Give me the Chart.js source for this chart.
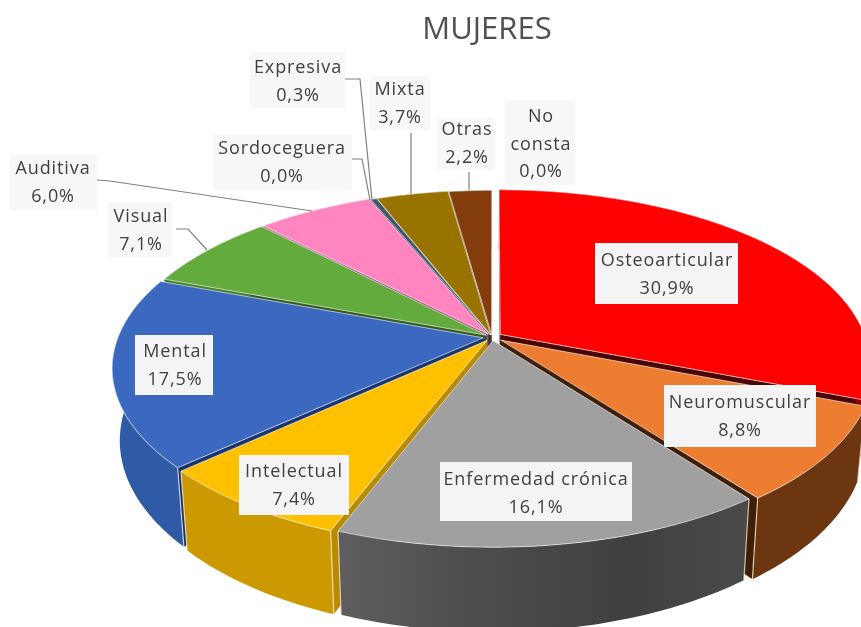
<!DOCTYPE html>
<html>
<head>
<meta charset="utf-8">
<style>html,body{margin:0;padding:0;background:#fff}canvas{display:block}</style>
<script src="https://cdn.jsdelivr.net/npm/chart.js@4/dist/chart.umd.min.js"></script>
</head>
<body>
<canvas id="c" width="861" height="627"></canvas>
<script>
const categories = ['Osteoarticular','Neuromuscular','Enfermedad crónica','Intelectual','Mental','Visual','Auditiva','Sordoceguera','Expresiva','Mixta','Otras','No consta'];
const values = [30.9,8.8,16.1,7.4,17.5,7.1,6.0,0.0,0.3,3.7,2.2,0.0];
const topColors = ['#ff0000','#ed7d31','#a0a0a0','#ffc000','#3b69bf','#62ab3c','#ff85c0','#a5a5a5','#44546a','#997300','#843c0c','#5b9bd5'];
const wallColors = ['#8f0000','#6b3610','#484848','#cc9a00','#2f5aa6','#4a7f2c','#c8609a','#707070','#2a3442','#6b5000','#5a2808','#3a6a95'];
const cutColors = ['#4a0606','#3f1f08','#484848','#b88a00','#1a3470','#33591d','#a04a7c','#707070','#2a3442','#5a4300','#4a2006','#3a6a95'];
const explode = [10,11,8,9,9,7,7,5,5,5,4,4];

const labelLines = {
 'Osteoarticular':['Osteoarticular'],'Neuromuscular':['Neuromuscular'],'Enfermedad crónica':['Enfermedad crónica'],
 'Intelectual':['Intelectual'],'Mental':['Mental'],'Visual':['Visual'],'Auditiva':['Auditiva'],
 'Sordoceguera':['Sordoceguera'],'Expresiva':['Expresiva'],'Mixta':['Mixta'],'Otras':['Otras'],'No consta':['No','consta']
};
const labelLayout = [
 [667,261,595,243,738,304],[740,403,664,385,816,447],[536,480,440,462,632,521],[294,472,239,455,349,515],
 [175,352,135,335,213,395],[141,217,108,203,172,257],[53,169,10,155,97,210],[282,149,213,135,352,190],
 [298,68,250,52,345,108],[400,90,370,76,430,130],[467,130,437,118,495,170],[541,117,505,100,575,185]
];
const leaders = [
 null,null,null,null,null,
 [[176,229],[188,229],[207,250]],
 [[97,180],[110,181],[312,211]],
 [[352,159],[362,159],[370,200]],
 [[345,79],[360,79],[372,200]],
 [[411,133],[411,194]],
 [[469,172],[469,190]],
 null
];

const CX=492, CY=337, RX=365, RY=170, PERSP=0.17, DEPTH=70;
function project(u,v,z){
  const w=1-PERSP*v;
  const s=1-0.02*z;
  return [CX+RX*u/w*s, CY+RY*v/w+z*DEPTH/w];
}
function slicePts(el,i,z){
  const off=explode[i]/RX, mid=(el.startAngle+el.endAngle)/2;
  const ox=Math.cos(mid)*off, oy=Math.sin(mid)*off;
  const pts=[];
  const n=Math.max(2,Math.ceil((el.endAngle-el.startAngle)/0.02));
  for(let k=0;k<=n;k++){
    const a=el.startAngle+(el.endAngle-el.startAngle)*k/n;
    pts.push(project(ox+Math.cos(a),oy+Math.sin(a),z));
  }
  return {pts,apex:project(ox,oy,z)};
}
function fillPath(ctx,pts,fill,stroke,lw){
  ctx.beginPath();
  pts.forEach((p,j)=> j?ctx.lineTo(p[0],p[1]):ctx.moveTo(p[0],p[1]));
  ctx.closePath();
  ctx.fillStyle=fill;ctx.fill();
  if(stroke){ctx.strokeStyle=stroke;ctx.lineWidth=lw||1;ctx.stroke();}
}
const pie3d={
  id:'pie3d',
  beforeDatasetsDraw(chart){
    const ctx=chart.ctx, meta=chart.getDatasetMeta(0);
    const order=meta.data.map((el,i)=>i).filter(i=>values[i]>0)
      .sort((p,q)=>Math.sin((meta.data[p].startAngle+meta.data[p].endAngle)/2)-Math.sin((meta.data[q].startAngle+meta.data[q].endAngle)/2));
    ctx.save();
    order.forEach(i=>{
      const el=meta.data[i];
      const t=slicePts(el,i,0), b=slicePts(el,i,1);
      const last=t.pts.length-1;
      fillPath(ctx,[t.apex,t.pts[0],b.pts[0],b.apex],cutColors[i]);
      fillPath(ctx,[t.apex,t.pts[last],b.pts[last],b.apex],cutColors[i]);
      const poly=t.pts.concat(b.pts.slice().reverse());
      let fill=wallColors[i];
      if(categories[i]==='Enfermedad crónica'){
        const g=ctx.createLinearGradient(338,0,750,0);
        g.addColorStop(0,'#5e5e5e');g.addColorStop(0.35,'#4c4c4c');g.addColorStop(0.7,'#404040');g.addColorStop(1,'#4a4a4a');
        fill=g;
      }
      fillPath(ctx,poly,fill);
      ctx.strokeStyle='rgba(255,240,215,0.75)';ctx.lineWidth=1.2;
      [0,last].forEach(k=>{
        if(t.pts[k][1]>CY+40){ctx.beginPath();ctx.moveTo(t.pts[k][0],t.pts[k][1]);ctx.lineTo(b.pts[k][0],b.pts[k][1]);ctx.stroke();}
      });
    });
    ctx.restore();
    meta.data.forEach((el,i)=>{
      el.draw=function(c){
        if(values[i]<=0)return;
        const t=slicePts(this,i,0);
        fillPath(c,[t.apex].concat(t.pts),topColors[i],'rgba(255,255,255,0.6)',1);
      };
    });
  },
  afterDatasetsDraw(chart){
    const ctx=chart.ctx;
    ctx.save();
    ctx.strokeStyle='#808080';ctx.lineWidth=1.2;
    leaders.forEach(l=>{
      if(!l)return;
      ctx.beginPath();
      l.forEach((p,j)=> j?ctx.lineTo(p[0],p[1]):ctx.moveTo(p[0],p[1]));
      ctx.stroke();
    });
    ctx.textAlign='center';ctx.textBaseline='middle';
    ctx.font='18px "Open Sans"';
    ctx.letterSpacing='0.9px';
    categories.forEach((name,i)=>{
      const [x,y,l,t,r,b]=labelLayout[i];
      ctx.fillStyle=i<5?'#f4f4f4':'#f7f7f7';
      ctx.fillRect(l,t,r-l,b-t);
      ctx.fillStyle='#404040';
      const lines=labelLines[name].concat([values[i].toFixed(1).replace('.',',')+'%']);
      lines.forEach((s,k)=>ctx.fillText(s,x,y+k*27.5));
    });
    ctx.restore();
  }
};
new Chart(document.getElementById('c'),{
  type:'pie',
  data:{labels:categories,datasets:[{data:values,backgroundColor:topColors,offset:explode,borderWidth:0}]},
  plugins:[pie3d],
  options:{
    responsive:false,animation:false,
    layout:{padding:{left:113,top:0,right:0,bottom:0}},
    plugins:{
      legend:{display:false},tooltip:{enabled:false},
      title:{display:true,text:'MUJERES',fullSize:false,color:'#505050',font:{family:'"Open Sans"',size:31,weight:'normal'},padding:{top:12,bottom:4}}
    }
  }
});
</script>
</body>
</html>
